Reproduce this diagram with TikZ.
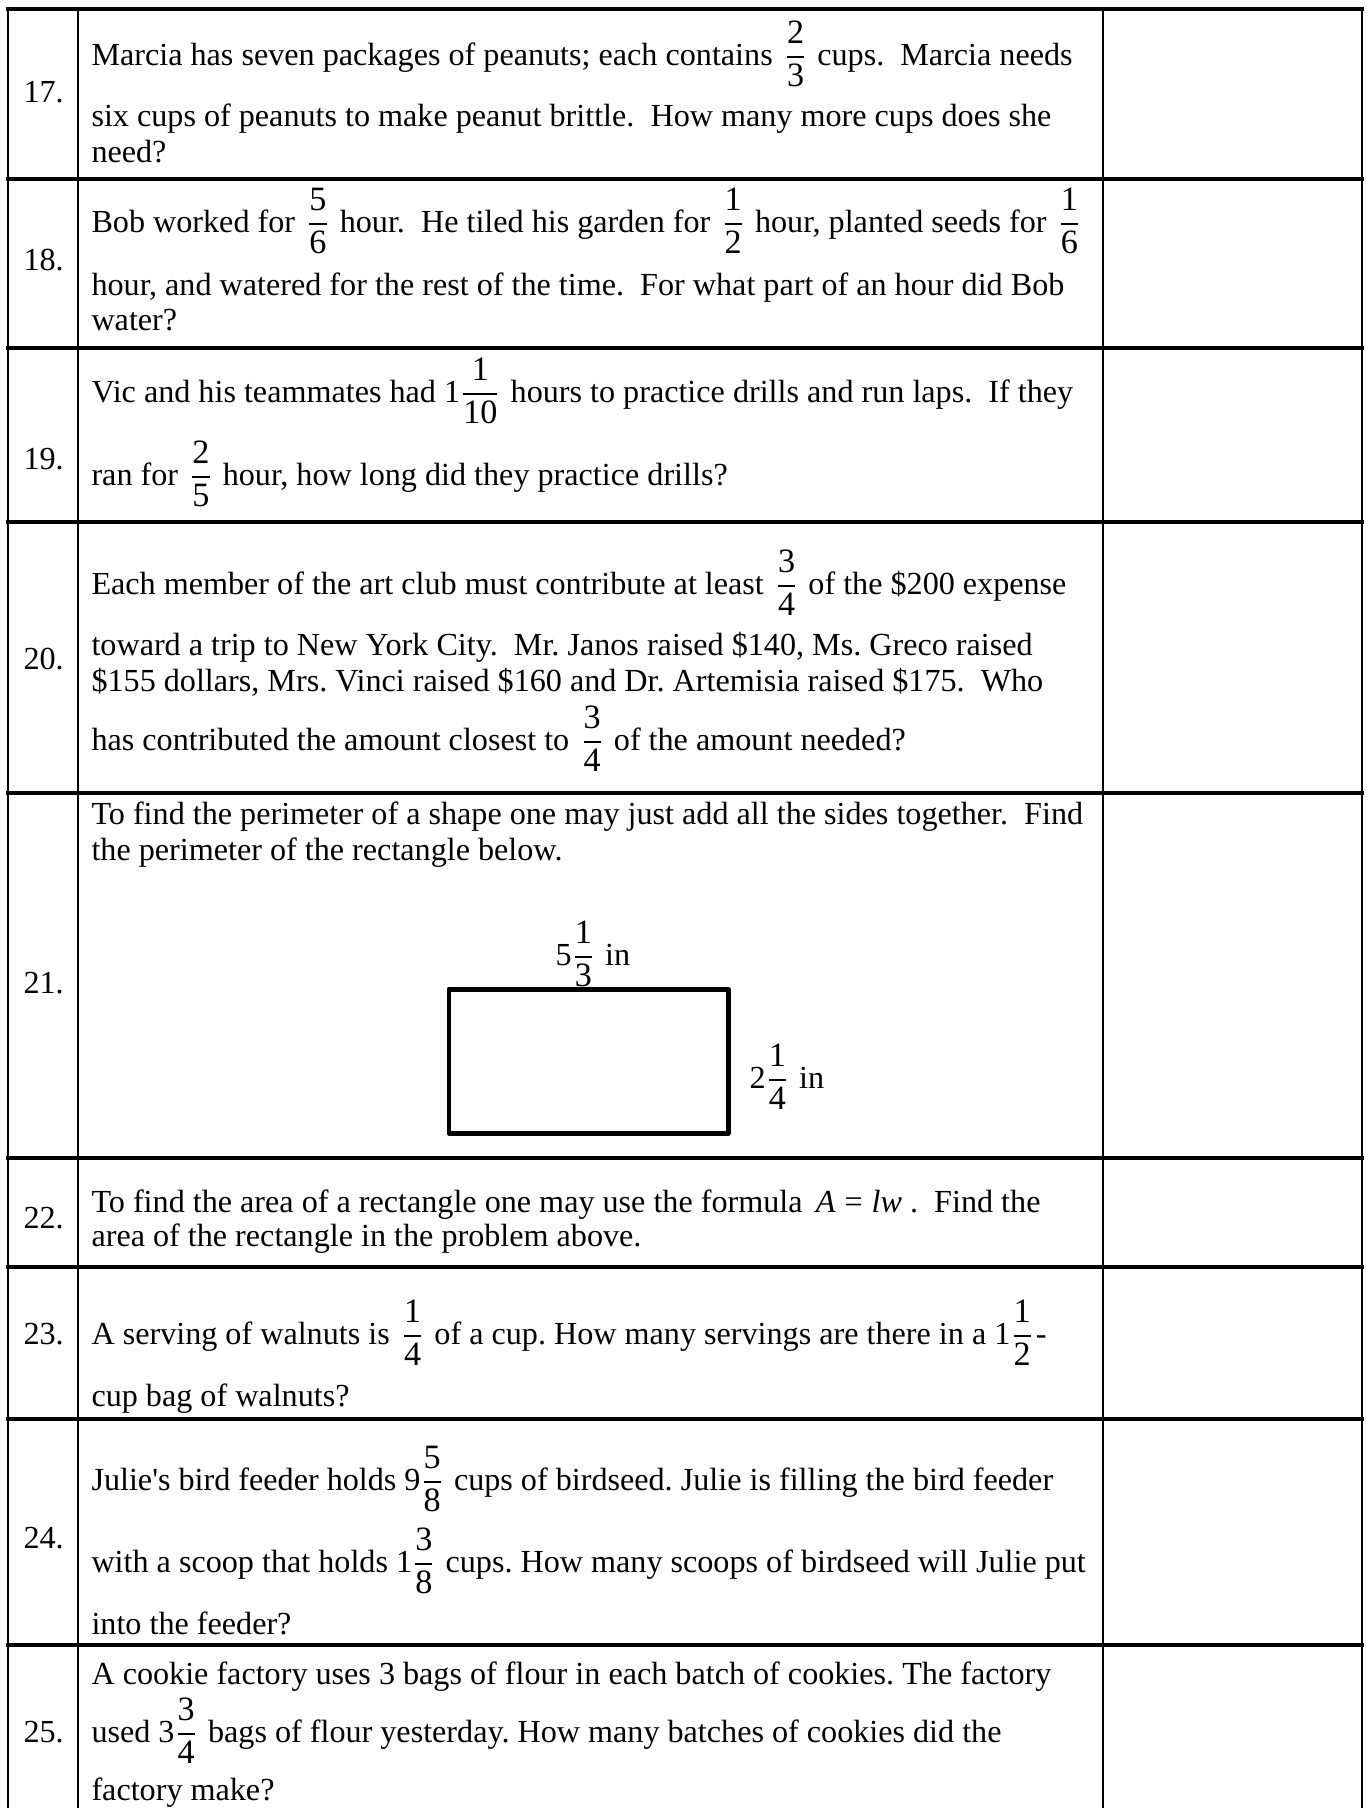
\documentclass[tikz,border=0pt]{standalone}
\usepackage{amsmath}
\usepackage{fontspec}
\setmainfont{Liberation Serif}
\newcommand\frdig{\fontsize{13pt}{14pt}\selectfont}
\newcommand\fr[2]{\kern1.2pt\relax\ensuremath{\genfrac{}{}{0.6pt}{0}{\text{\frdig #1}}{\text{\frdig #2}}}\kern0.8pt\relax}
\newcommand\mfr[2]{\ensuremath{\genfrac{}{}{0.6pt}{0}{\text{\frdig #1}}{\text{\frdig #2}}}\kern0.8pt\relax}
\tikzset{
  tx/.style={anchor=base west, inner sep=0pt, font=\fontsize{12.25pt}{14pt}\selectfont},
  hl/.style={line width=1.3pt, line cap=rect},
  vl/.style={line width=0.8pt},
  rectbox/.style={line width=1.9pt, line join=round},
}
\begin{document}
\frenchspacing
\begin{tikzpicture}[x=0.381pt,y=-0.381pt]
\useasboundingbox (0,0) rectangle (1369,1808);
\fill[white] (0,0) rectangle (1369,1808);
% table rules
\foreach \yy in {9,179,348,522,793,1158,1267,1419,1645} \draw[hl] (8,\yy) -- (1362,\yy);
\foreach \xx in {8,78,1103,1362} \draw[vl] (\xx,9) -- (\xx,1808);
% numbers
\node[tx] (n17) at (23,102) {17.};
\node[tx] (n18) at (23,270) {18.};
\node[tx] (n19) at (23,469) {19.};
\node[tx] (n20) at (23,669) {20.};
\node[tx] (n21) at (23,993) {21.};
\node[tx] (n22) at (23,1228) {22.};
\node[tx] (n23) at (23,1344) {23.};
\node[tx] (n24) at (23,1548) {24.};
\node[tx] (n25) at (23,1742) {25.};
% row 17
\node[tx] (a17) at (91,65) {Marcia has seven packages of peanuts; each contains \fr{2}{3} cups.\ \ Marcia needs};
\node[tx] (b17) at (91,126) {six cups of peanuts to make peanut brittle.\ \ How many more cups does she};
\node[tx] (c17) at (91,162) {need?};
% row 18
\node[tx] (a18) at (91,232) {Bob worked for \fr{5}{6} hour.\ \ He tiled his garden for \fr{1}{2} hour, planted seeds for \fr{1}{6}};
\node[tx] (b18) at (91,295) {hour, and watered for the rest of the time.\ \ For what part of an hour did Bob};
\node[tx] (c18) at (91,330) {water?};
% row 19
\node[tx] (a19) at (91,402) {Vic and his teammates had 1\mfr{1}{10} hours to practice drills and run laps.\ \ If they};
\node[tx] (b19) at (91,485) {ran for \fr{2}{5} hour, how long did they practice drills?};
% row 20
\node[tx] (a20) at (91,594) {Each member of the art club must contribute at least \fr{3}{4} of the \$200 expense};
\node[tx] (b20) at (91,655) {toward a trip to New York City.\ \ Mr. Janos raised \$140, Ms. Greco raised};
\node[tx] (c20) at (91,691) {\$155 dollars, Mrs. Vinci raised \$160 and Dr. Artemisia raised \$175.\ \ Who};
\node[tx] (d20) at (91,750) {has contributed the amount closest to \fr{3}{4} of the amount needed?};
% row 21
\node[tx] (a21) at (91,824) {To find the perimeter of a shape one may just add all the sides together.\ \ Find};
\node[tx] (b21) at (91,860) {the perimeter of the rectangle below.};
\draw[rectbox] (449,989) rectangle (728,1133);
\node[tx] (w21) at (555,965) {5\mfr{1}{3} in};
\node[tx] (h21) at (749,1088) {2\mfr{1}{4} in};
% row 22
\node[tx] (a22) at (91,1212) {To find the area of a rectangle one may use the formula\ \,\textit{A}\;=\;\textit{lw}\ .\ \ Find the};
\node[tx] (b22) at (91,1246) {area of the rectangle in the problem above.};
% row 23
\node[tx] (a23) at (91,1344) {A serving of walnuts is \fr{1}{4} of a cup. How many servings are there in a 1\mfr{1}{2}-};
\node[tx] (b23) at (91,1406) {cup bag of walnuts?};
% row 24
\node[tx] (a24) at (91,1490) {Julie\textquotesingle s bird feeder holds 9\mfr{5}{8} cups of birdseed. Julie is filling the bird feeder};
\node[tx] (b24) at (91,1572) {with a scoop that holds 1\mfr{3}{8} cups. How many scoops of birdseed will Julie put};
\node[tx] (c24) at (91,1634) {into the feeder?};
% row 25
\node[tx] (a25) at (91,1684) {A cookie factory uses 3 bags of flour in each batch of cookies. The factory};
\node[tx] (b25) at (91,1742) {used 3\mfr{3}{4} bags of flour yesterday. How many batches of cookies did the};
\node[tx] (c25) at (91,1800) {factory make?};
\end{tikzpicture}
\end{document}
